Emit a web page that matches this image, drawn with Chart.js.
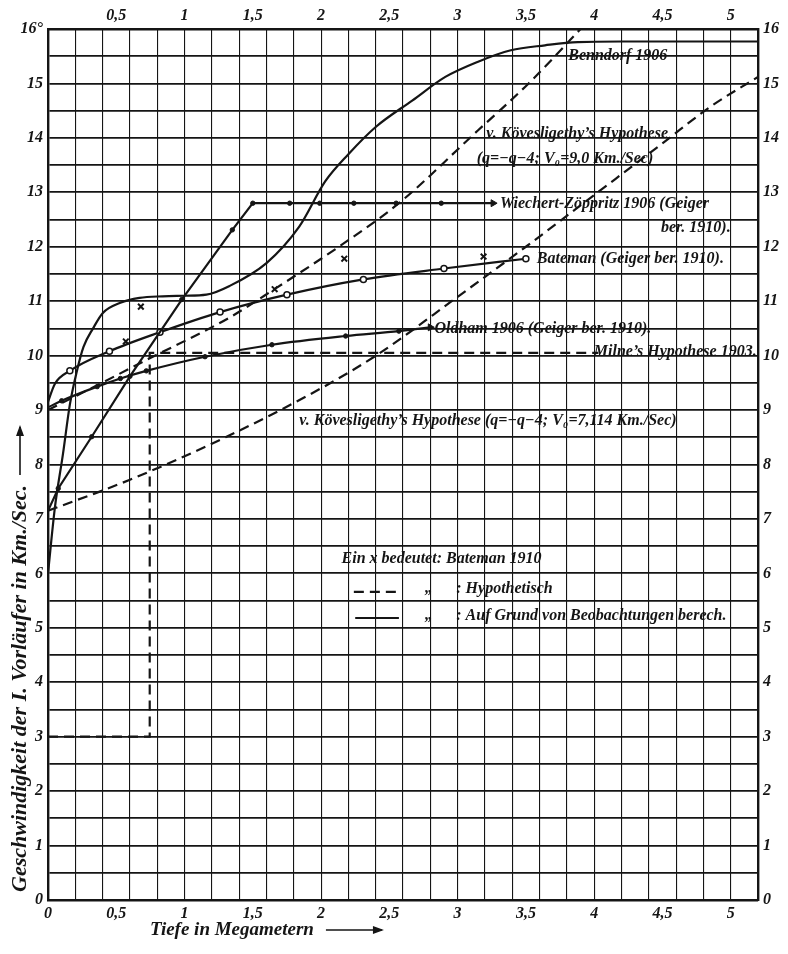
<!DOCTYPE html>
<html lang="de">
<head>
<meta charset="UTF-8">
<title>Geschwindigkeit der I. Vorläufer</title>
<script src="https://cdn.jsdelivr.net/npm/chart.js"></script>
<style>
  html, body { margin: 0; padding: 0; background: #fff; }
  #wrap { width: 788px; height: 954px; position: relative; }
</style>
</head>
<body>
<div id="wrap"><canvas id="chart"></canvas></div>
<script>
// Tiefe in Megametern (x) / Geschwindigkeit in Km./Sec. (y)
const benndorfX = [0, 0.05, 0.11, 0.16, 0.21, 0.26, 0.33, 0.4, 0.53, 0.67, 0.84, 1.0, 1.16, 1.33, 1.6, 1.84, 2.03, 2.2, 2.4, 2.67, 2.91, 3.15, 3.39, 3.64, 3.88, 4.2, 5.2];
const benndorfY = [6, 7.2, 8.2, 9.1, 9.7, 10.16, 10.5, 10.78, 10.97, 11.06, 11.09, 11.1, 11.12, 11.28, 11.7, 12.37, 13.2, 13.7, 14.2, 14.69, 15.12, 15.4, 15.61, 15.7, 15.76, 15.77, 15.77];

const wiechertX = [0, 0.075, 0.32, 0.6, 0.98, 1.35, 1.5, 1.77, 1.99, 2.24, 2.55, 2.88, 3.26];
const wiechertY = [7.15, 7.56, 8.51, 9.62, 11.03, 12.31, 12.8, 12.8, 12.8, 12.8, 12.8, 12.8, 12.8];

const batemanX = [0, 0.05, 0.16, 0.45, 0.82, 1.26, 1.75, 2.31, 2.9, 3.5];
const batemanY = [9.15, 9.48, 9.72, 10.08, 10.43, 10.8, 11.12, 11.4, 11.6, 11.78];

const oldhamX = [0, 0.1, 0.36, 0.53, 0.72, 1.15, 1.64, 2.18, 2.57, 2.8];
const oldhamY = [9.05, 9.17, 9.43, 9.58, 9.72, 9.98, 10.2, 10.36, 10.45, 10.52];

const milneX = [0, 0.745, 0.745, 4.03];
const milneY = [3, 3, 10.05, 10.05];

const kov9X = [0, 0.3, 0.745, 1.33, 1.67, 2.13, 2.57, 3.15, 3.52, 3.9];
const kov9Y = [9.0, 9.38, 9.95, 10.7, 11.24, 12.0, 12.8, 14.14, 15.0, 16.0];

const kov7X = [0, 0.6, 1.3, 2.0, 2.42, 3.0, 3.5, 4.0, 4.5, 4.85, 5.2];
const kov7Y = [7.15, 7.72, 8.5, 9.4, 10.03, 11.08, 12.0, 12.95, 13.9, 14.57, 15.12];

// "Ein x bedeutet: Bateman 1910"
const batemanCrossX = [0.57, 0.68, 1.66, 2.17, 3.19];
const batemanCrossY = [10.26, 10.9, 11.22, 11.78, 11.82];

const xLabelValues = [0, 0.5, 1, 1.5, 2, 2.5, 3, 3.5, 4, 4.5, 5];
const xLabels = ['0', '0,5', '1', '1,5', '2', '2,5', '3', '3,5', '4', '4,5', '5'];

const INK = '#151515';
const FONT = '"Liberation Serif", "DejaVu Serif", serif';
const tickFont = { family: FONT, size: 16, style: 'italic', weight: 'bold' };

const pts = (xs, ys) => xs.map((x, i) => ({ x, y: ys[i] }));
const isLast = ctx => ctx.dataIndex === ctx.dataset.data.length - 1;

function xLabel(v, withZero) {
  const i = xLabelValues.findIndex(t => Math.abs(t - v) < 1e-6);
  if (i < 0 || (!withZero && i === 0)) return '';
  return xLabels[i];
}
function yLabel(v) {
  if (Math.abs(v - Math.round(v)) > 1e-6) return '';
  return v === 16 ? '16°' : String(Math.round(v));
}

// labels written onto the plate, placed in data units
const notes = [
  { text: 'Benndorf 1906', x: 3.81, y: 15.5 },
  { text: 'v. Kövesligethy\u2019s Hypothese', x: 3.21, y: 14.08 },
  { text: '(q=\u2212q\u22124; V\u2080=9,0 Km./Sec)', x: 3.14, y: 13.62 },
  { text: 'Wiechert-Zöppritz 1906 (Geiger', x: 3.31, y: 12.79 },
  { text: 'ber. 1910).', x: 5.0, y: 12.34, align: 'right' },
  { text: 'Bateman (Geiger ber. 1910).', x: 3.58, y: 11.77 },
  { text: 'Oldham 1906 (Geiger ber. 1910).', x: 2.83, y: 10.5 },
  { text: 'Milne\u2019s Hypothese 1903.', x: 5.19, y: 10.07, align: 'right' },
  { text: 'v. Kövesligethy\u2019s Hypothese (q=\u2212q\u22124; V\u2080=7,114 Km./Sec)', x: 1.84, y: 8.8 },
  { text: 'Ein x bedeutet: Bateman 1910', x: 2.15, y: 6.27 },
  { text: '\u201E', x: 2.76, y: 5.72 },
  { text: ': Hypothetisch', x: 2.99, y: 5.72 },
  { text: '\u201E', x: 2.76, y: 5.22 },
  { text: ': Auf Grund von Beobachtungen berech.', x: 2.99, y: 5.22 }
];

const platePlugin = {
  id: 'plate',
  afterDatasetsDraw(chart) {
    const { ctx, scales: { x, y } } = chart;
    ctx.save();
    ctx.fillStyle = INK;
    ctx.strokeStyle = INK;
    ctx.font = `italic bold 16px ${FONT}`;
    ctx.textBaseline = 'middle';
    notes.forEach(n => {
      ctx.textAlign = n.align || 'left';
      ctx.fillText(n.text, x.getPixelForValue(n.x), y.getPixelForValue(n.y));
    });

    // legend samples: dashed = hypothetisch, solid = beobachtet
    ctx.lineWidth = 2.2;
    ctx.setLineDash([10, 6]);
    ctx.beginPath();
    ctx.moveTo(x.getPixelForValue(2.24), y.getPixelForValue(5.66));
    ctx.lineTo(x.getPixelForValue(2.57), y.getPixelForValue(5.66));
    ctx.stroke();
    ctx.setLineDash([]);
    ctx.beginPath();
    ctx.moveTo(x.getPixelForValue(2.25), y.getPixelForValue(5.18));
    ctx.lineTo(x.getPixelForValue(2.57), y.getPixelForValue(5.18));
    ctx.stroke();
    ctx.restore();
  },
  afterDraw(chart) {
    const { ctx, chartArea: a } = chart;
    ctx.save();
    ctx.fillStyle = INK;
    ctx.strokeStyle = INK;
    ctx.lineWidth = 1.6;
    ctx.textBaseline = 'middle';
    ctx.textAlign = 'left';

    // bottom title
    ctx.font = `italic bold 19px ${FONT}`;
    const bx = a.left + 102, by = a.bottom + 30;
    ctx.fillText('Tiefe in Megametern', bx, by);
    const w = ctx.measureText('Tiefe in Megametern').width;
    arrow(ctx, bx + w + 12, by, bx + w + 68, by);

    // left title, rotated
    ctx.font = `italic bold 22px ${FONT}`;
    ctx.translate(a.left - 28, a.bottom - 8);
    ctx.rotate(-Math.PI / 2);
    const t = 'Geschwindigkeit der I. Vorläufer in Km./Sec.';
    ctx.fillText(t, 0, 0);
    const tw = ctx.measureText(t).width;
    arrow(ctx, tw + 10, 0, tw + 58, 0);
    ctx.restore();

    function arrow(c, x0, y0, x1, y1) {
      c.beginPath();
      c.moveTo(x0, y0);
      c.lineTo(x1, y1);
      c.stroke();
      c.beginPath();
      c.moveTo(x1 + 2, y1);
      c.lineTo(x1 - 9, y1 - 4);
      c.lineTo(x1 - 9, y1 + 4);
      c.closePath();
      c.fill();
    }
  }
};

const solid = { borderColor: INK, borderWidth: 2.2, pointRadius: 0, fill: false };
const dashed = { ...solid, borderDash: [10, 6] };
const dotted = {
  pointRadius: ctx => ctx.dataIndex === 0 ? 0 : (isLast(ctx) ? 4 : 2.2),
  pointStyle: ctx => isLast(ctx) ? 'triangle' : 'circle',
  pointRotation: ctx => isLast(ctx) ? 90 : 0,
  pointBackgroundColor: INK,
  pointBorderColor: INK,
  pointBorderWidth: 1
};

const gridX = {
  color: ctx => (Math.round(ctx.tick.value * 10) % 2 === 0) ? INK : 'rgba(0,0,0,0)',
  lineWidth: 1.1,
  drawTicks: false
};

new Chart(document.getElementById('chart'), {
  type: 'line',
  data: {
    datasets: [
      { label: 'Benndorf 1906', data: pts(benndorfX, benndorfY), ...solid, cubicInterpolationMode: 'monotone' },
      { label: 'Wiechert-Zöppritz 1906', data: pts(wiechertX, wiechertY), ...solid, ...dotted, tension: 0 },
      { label: 'Bateman (Geiger ber. 1910)', data: pts(batemanX, batemanY), ...solid, cubicInterpolationMode: 'monotone',
        pointRadius: ctx => ctx.dataIndex < 2 ? 0 : 3, pointBackgroundColor: '#fff', pointBorderColor: INK, pointBorderWidth: 1.5 },
      { label: 'Oldham 1906 (Geiger ber. 1910)', data: pts(oldhamX, oldhamY), ...solid, ...dotted, cubicInterpolationMode: 'monotone' },
      { label: 'Milne\u2019s Hypothese 1903', data: pts(milneX, milneY), ...dashed, tension: 0 },
      { label: 'v. Kövesligethy (V\u2080=9,0)', data: pts(kov9X, kov9Y), ...dashed, cubicInterpolationMode: 'monotone' },
      { label: 'v. Kövesligethy (V\u2080=7,114)', data: pts(kov7X, kov7Y), ...dashed, cubicInterpolationMode: 'monotone' },
      { label: 'Bateman 1910', data: pts(batemanCrossX, batemanCrossY), showLine: false,
        pointStyle: 'crossRot', pointRadius: 4, pointBorderWidth: 2, pointBorderColor: INK, borderColor: INK }
    ]
  },
  options: {
    responsive: true,
    maintainAspectRatio: false,
    animation: false,
    events: [],
    layout: { padding: 0 },
    plugins: { legend: { display: false }, tooltip: { enabled: false } },
    scales: {
      x: {
        type: 'linear', position: 'bottom', min: 0, max: 5.2,
        ticks: { stepSize: 0.1, autoSkip: false, maxRotation: 0, padding: 4, color: INK, font: tickFont,
                 callback: v => xLabel(v, true) },
        grid: gridX,
        border: { color: INK, width: 2.4 },
        afterFit: s => { s.height = 54; }
      },
      x2: {
        type: 'linear', position: 'top', min: 0, max: 5.2,
        ticks: { stepSize: 0.1, autoSkip: false, maxRotation: 0, padding: 4, color: INK, font: tickFont,
                 callback: v => xLabel(v, false) },
        grid: { display: false, drawTicks: false },
        border: { color: INK, width: 2.4 },
        afterFit: s => { s.height = 29; }
      },
      y: {
        type: 'linear', position: 'left', min: 0, max: 16,
        ticks: { stepSize: 0.5, autoSkip: false, padding: 5, color: INK, font: tickFont, callback: yLabel },
        grid: { color: INK, lineWidth: 1.8, drawTicks: false },
        border: { color: INK, width: 2.4 },
        afterFit: s => { s.width = 48; }
      },
      y2: {
        type: 'linear', position: 'right', min: 0, max: 16,
        ticks: { stepSize: 0.5, autoSkip: false, padding: 5, color: INK, font: tickFont,
                 callback: v => (Math.abs(v - Math.round(v)) < 1e-6 ? String(Math.round(v)) : '') },
        grid: { display: false, drawTicks: false },
        border: { color: INK, width: 2.4 },
        afterFit: s => { s.width = 30; }
      }
    }
  },
  plugins: [platePlugin]
});
</script>
</body>
</html>
